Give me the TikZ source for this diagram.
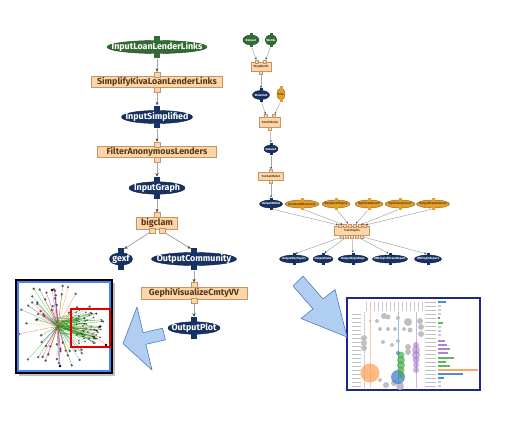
\documentclass[tikz,border=0pt]{standalone}
\usepackage{fontspec}
\setmainfont{Fira Sans}
\usepackage{tikz}
\usetikzlibrary{arrows.meta,shapes.geometric}

\definecolor{flowgreen}{RGB}{50,108,50}
\definecolor{flowblue}{RGB}{22,50,98}
\definecolor{flowgold}{RGB}{226,160,40}
\definecolor{boxfill}{RGB}{252,214,170}
\definecolor{boxline}{RGB}{196,150,100}
\definecolor{boxtext}{RGB}{90,55,20}
\definecolor{edgegray}{RGB}{165,165,165}
\definecolor{arrowfill}{RGB}{176,206,242}
\definecolor{arrowline}{RGB}{80,120,190}
\definecolor{framenavy}{RGB}{30,40,140}
\definecolor{frameblue}{RGB}{70,130,240}
\definecolor{chorange}{RGB}{255,150,70}
\definecolor{chblue}{RGB}{50,120,200}
\definecolor{chgreen}{RGB}{70,170,70}
\definecolor{chpurple}{RGB}{160,110,200}

\tikzset{
  sized/.style 2 args={minimum width=#1, minimum height=#2, inner sep=0pt,
    execute at begin node={\hbox to 0pt\bgroup\hss},
    execute at end node={\hss\egroup}},
  ioput/.style={ellipse, fill=#1, draw=#1!60!black, line width=0.4pt, text=white},
  param/.style={ellipse, fill=flowgold, draw=flowgold!60!black, line width=0.4pt, text=boxtext},
  task/.style={rectangle, fill=boxfill, draw=boxline, line width=0.5pt, text=boxtext},
  port/.style={rectangle, fill=#1, inner sep=0pt, minimum width=6, minimum height=6},
  tport/.style={rectangle, fill=boxfill, draw=boxline, line width=0.4pt, inner sep=0pt,
    minimum width=6, minimum height=5},
  small/.style={minimum width=3, minimum height=3},
  netdot/.style={circle, fill=black, inner sep=0pt, minimum size=2.6},
  blockarrow/.style={fill=arrowfill, draw=arrowline, line width=0.6pt, line join=round}
}

\begin{document}
\begin{tikzpicture}[x=1pt, y=-1pt]
\useasboundingbox (0,0) rectangle (516,420);

% loan workflow
\begin{scope}[every node/.style={font=\fontsize{8.9}{10}\selectfont\bfseries}]
    \node[ioput=flowgreen, sized={100}{13}] (lnk) at (157,47) {InputLoanLenderLinks};
    \node[task, sized={131}{11}] (simp) at (157,82) {SimplifyKivaLoanLenderLinks};
    \node[ioput=flowblue, sized={71}{10}] (isimp) at (157,117) {InputSimplified};
    \node[task, sized={119}{11}] (filt) at (157,152) {FilterAnonymousLenders};
    \node[ioput=flowblue, sized={56}{10}] (igraph) at (157,188) {InputGraph};
    \node[task, sized={41}{12}] (bigc) at (157,223) {bigclam};
    \node[ioput=flowblue, sized={23}{11}] (gexf) at (121,259) {gexf};
    \node[ioput=flowblue, sized={85}{11}] (ocom) at (194,259) {OutputCommunity};
    \node[task, sized={106}{12}] (gephi) at (194,293) {GephiVisualizeCmtyVV};
    \node[ioput=flowblue, sized={52}{10}] (oplot) at (194,328) {OutputPlot};
\end{scope}

\foreach \n/\c in {lnk/flowgreen, isimp/flowblue, igraph/flowblue, gexf/flowblue,
                   ocom/flowblue, oplot/flowblue} {
    \node[port=\c, anchor=south] (\n-t) at ([yshift=-1.5pt]\n.north) {};
    \node[port=\c, anchor=north] (\n-b) at ([yshift=1.5pt]\n.south) {};
}
\foreach \n in {simp, filt, gephi} {
    \node[tport, anchor=south] (\n-t) at ([yshift=-1pt]\n.north) {};
    \node[tport, anchor=north] (\n-b) at ([yshift=1pt]\n.south) {};
}
\node[tport, anchor=south] (bigc-t) at ([yshift=-1pt]bigc.north) {};
\node[tport, anchor=north] (bigc-b1) at ([xshift=-5pt, yshift=1pt]bigc.south) {};
\node[tport, anchor=north] (bigc-b2) at ([xshift=5pt, yshift=1pt]bigc.south) {};

\begin{scope}[>={Stealth[length=3.5pt,width=3pt,black!75]},
              every edge/.style={draw=edgegray, line width=0.8pt}]
    \path [->] (lnk-b) edge (simp-t);
    \path [->] (simp-b) edge (isimp-t);
    \path [->] (isimp-b) edge (filt-t);
    \path [->] (filt-b) edge (igraph-t);
    \path [->] (igraph-b) edge (bigc-t);
    \path [->] (bigc-b1) edge (gexf-t);
    \path [->] (bigc-b2) edge (ocom-t);
    \path [->] (ocom-b) edge (gephi-t);
    \path [->] (gephi-b) edge (oplot-t);
\end{scope}

% topic workflow
\begin{scope}[every node/.style={font=\fontsize{3}{3.5}\selectfont\bfseries}]
    \node[ioput=flowgreen, sized={16}{10}] (ds) at (251,40) {Dataset};
    \node[ioput=flowgreen, sized={12}{10}] (words) at (271,40) {Words};
    \node[task, sized={20}{9}] (stopw) at (261,67) {StopWords};
    \node[ioput=flowblue, sized={17}{9}] (stem) at (261,95) {Stemmed};
    \node[param, sized={8}{12}] (size) at (281,94) {Size};
    \node[task, sized={21}{10}] (smallw) at (270,122) {SmallWords};
    \node[ioput=flowblue, sized={14}{8}] (clean) at (271,149) {Dataset};
    \node[task, sized={25}{8}] (fmt) at (271,176) {FormatMallet};
    \node[ioput=flowblue, sized={23}{8}] (omal) at (271,204) {OutputMallet};
    \node[param, sized={34}{8}] (p1) at (302,204) {NumberOfIterations};
    \node[param, sized={28}{8}] (p2) at (336,204) {NumberOfTopics};
    \node[param, sized={28}{8}] (p3) at (369,204) {OptimizeBurnIn};
    \node[param, sized={30}{8}] (p4) at (400,204) {OptimizeInterval};
    \node[param, sized={33}{8}] (p5) at (433,204) {OutputStateInterval};
    \node[task, sized={35}{9}] (tt) at (352,231) {TrainTopics};
    \node[ioput=flowblue, sized={29}{8}] (q1) at (294,259) {OutputDocTopics};
    \node[ioput=flowblue, sized={20}{8}] (q2) at (323,259) {OutputState};
    \node[ioput=flowblue, sized={30}{8}] (q3) at (353,259) {OutputTopicKeys};
    \node[ioput=flowblue, sized={35}{8}] (q4) at (390,259) {XMLTopicPhraseReport};
    \node[ioput=flowblue, sized={27}{8}] (q5) at (428,259) {XMLTopicReport};
\end{scope}

\foreach \n/\c in {ds/flowgreen, words/flowgreen, stem/flowblue, clean/flowblue,
                   omal/flowblue, q1/flowblue, q2/flowblue, q3/flowblue,
                   q4/flowblue, q5/flowblue, size/flowgold, p1/flowgold,
                   p2/flowgold, p3/flowgold, p4/flowgold, p5/flowgold} {
    \node[port=\c, small, anchor=south] (\n-t) at ([yshift=-1pt]\n.north) {};
    \node[port=\c, small, anchor=north] (\n-b) at ([yshift=1pt]\n.south) {};
}
\foreach \n in {smallw, stopw} {
    \node[tport, small, anchor=south] (\n-t1) at ([xshift=-4pt, yshift=-0.7pt]\n.north) {};
    \node[tport, small, anchor=south] (\n-t2) at ([xshift=4pt, yshift=-0.7pt]\n.north) {};
    \node[tport, small, anchor=north] (\n-b) at ([yshift=0.7pt]\n.south) {};
}
\node[tport, small, anchor=south] (fmt-t) at ([yshift=-0.7pt]fmt.north) {};
\node[tport, small, anchor=north] (fmt-b) at ([yshift=0.7pt]fmt.south) {};
\foreach \i/\dx in {1/-12.5, 2/-7.5, 3/-2.5, 4/2.5, 5/7.5, 6/12.5}
    \node[tport, small, anchor=south] (tt-t\i) at ([xshift=\dx pt, yshift=-0.7pt]tt.north) {};
\foreach \i/\dx in {1/-10, 2/-5, 3/0, 4/5, 5/10}
    \node[tport, small, anchor=north] (tt-b\i) at ([xshift=\dx pt, yshift=0.7pt]tt.south) {};

\begin{scope}[>={Stealth[length=2pt,width=2pt,black!75]},
              every edge/.style={draw=edgegray, line width=0.5pt}]
    \path [->] (ds-b) edge (stopw-t1);
    \path [->] (words-b) edge (stopw-t2);
    \path [->] (stopw-b) edge (stem-t);
    \path [->] (stem-b) edge (smallw-t1);
    \path [->] (size-b) edge (smallw-t2);
    \path [->] (smallw-b) edge (clean-t);
    \path [->] (clean-b) edge (fmt-t);
    \path [->] (fmt-b) edge (omal-t);
    \path [->] (omal-b) edge (tt-t1);
    \foreach \i [evaluate=\i as \j using int(\i+1)] in {1,...,5}
        \path [->] (p\i-b) edge (tt-t\j);
    \foreach \i in {1,...,5}
        \path [->] (tt-b\i) edge (q\i-t);
\end{scope}

% community picture
\fill[black!25] (18.5,282.5) rectangle (114.5,375.5);
\draw[black, line width=1.2pt, fill=white] (16,280) rectangle (112,373);
\begin{scope}
    \clip (18,282) rectangle (110,371);
    \pgfmathsetseed{11}
    \foreach \i in {1,...,70} {
        \pgfmathsetmacro\ang{rnd*360}
        \pgfmathsetmacro\rad{16+rnd*30}
        \pgfmathparse{{"magenta","orange","green!70!black","cyan!80!black","violet",
                       "yellow!80!black","red!80","green!50!black"}[int(rnd*8)]}
        \edef\spk{\pgfmathresult}
        \draw[\spk, line width=0.35pt, opacity=0.6] (58,326) -- ++(\ang:\rad) node[netdot] {};
    }
    \draw[chpurple, line width=0.5pt] (58,326) -- (60,366) node[netdot] {};
    \draw[chpurple!70, line width=0.4pt] (58,326) -- (52,290) node[netdot] {};
    \foreach \i in {1,...,50}
        \draw[green!55!black, line width=0.3pt, opacity=0.55]
            (50+rnd*16,318+rnd*16) -- (76+rnd*26,312+rnd*32) node[netdot, minimum size=2] {};
    \draw[red!40, line width=0.3pt] (85,328) -- (106,345) node[netdot] {};
\end{scope}
\draw[frameblue, line width=1.5pt] (18,282) rectangle (110,371);
\draw[red!90!black, line width=1.2pt] (71,309) rectangle (110,347);

% topic chart picture
\draw[framenavy, line width=1.6pt, fill=white] (347,298) rectangle (480,390);
\begin{scope}
    \foreach \y in {314,318,...,388}
        \draw[black!25, line width=0.8pt] (352,\y) -- (361,\y);
    \foreach \x in {366,370,...,422}
        \draw[black!20, line width=0.6pt] (\x,302) -- (\x,311);
    \draw[black!20, line width=0.4pt] (364,312) -- (364,388);
    \draw[chorange!50, line width=0.4pt] (370,312) -- (370,388);
    \draw[chblue!50, line width=0.4pt] (398,312) -- (398,388);
    \draw[chpurple!50, line width=0.4pt] (416,312) -- (416,388);
    \foreach \x/\y/\r in {384/316/3, 388/317/2.5, 377/321/2, 398/318/2, 408/322/4,
                          420/321/3, 380/329/2, 388/329/2, 395/329/2, 404/329/2,
                          410/330/2.5, 421/327/3, 421/334/3, 364/338/3, 364/343/3,
                          364/348/3, 383/342/2, 392/345/2, 398/341/2, 408/347/3,
                          408/352/3, 400/386/4, 386/385/3, 394/383/3, 380/380/2}
        \fill[black!25] (\x,\y) circle (\r);
    \fill[chorange, opacity=0.65] (370,373) circle (9.5);
    \fill[chorange, opacity=0.6] (370,321) circle (1.5);
    \fill[chblue, opacity=0.7] (398,377) circle (7);
    \fill[chblue, opacity=0.7] (398,353) circle (2);
    \foreach \y/\r in {355/3.5, 360/4, 365/4, 370/3.5, 375/3}
        \fill[chgreen, opacity=0.7] (401,\y) circle (\r);
    \foreach \y/\r in {345/3, 350/4, 355/4, 360/3.5, 365/3, 370/3}
        \fill[chpurple, opacity=0.55] (416,\y) circle (\r);
    \foreach \y in {302,306,...,386}
        \draw[black!25, line width=0.8pt] (425,\y) -- (436,\y);
    \foreach \y/\l/\c in {302/8/chblue, 318/2/chblue, 323/5/chgreen, 341/7/chpurple,
                          345/9/chpurple, 349/12/chpurple, 353/10/chpurple,
                          358/16/chgreen, 362/8/chgreen, 366/12/chgreen,
                          370/40/chorange, 374/25/chblue, 378/6/chblue}
        \fill[\c, opacity=0.85] (438,\y-0.8) rectangle ++(\l,1.8);
    \foreach \y in {306,310,314,327,331,335,382,386}
        \fill[black!20] (438,\y-0.8) rectangle ++(3,1.8);
\end{scope}

% block arrows
\draw[blockarrow] (123,343.6) -- (137,307) -- (143.1,332.7) -- (162.6,328.2)
    -- (165.4,339.8) -- (145.9,344.3) -- (152,370) -- cycle;
\draw[blockarrow] (303,276) -- (293,286) -- (313,309) -- (301,318.5) -- (347,337)
    -- (335,289.5) -- (323,299) -- cycle;
\end{tikzpicture}
\end{document}
